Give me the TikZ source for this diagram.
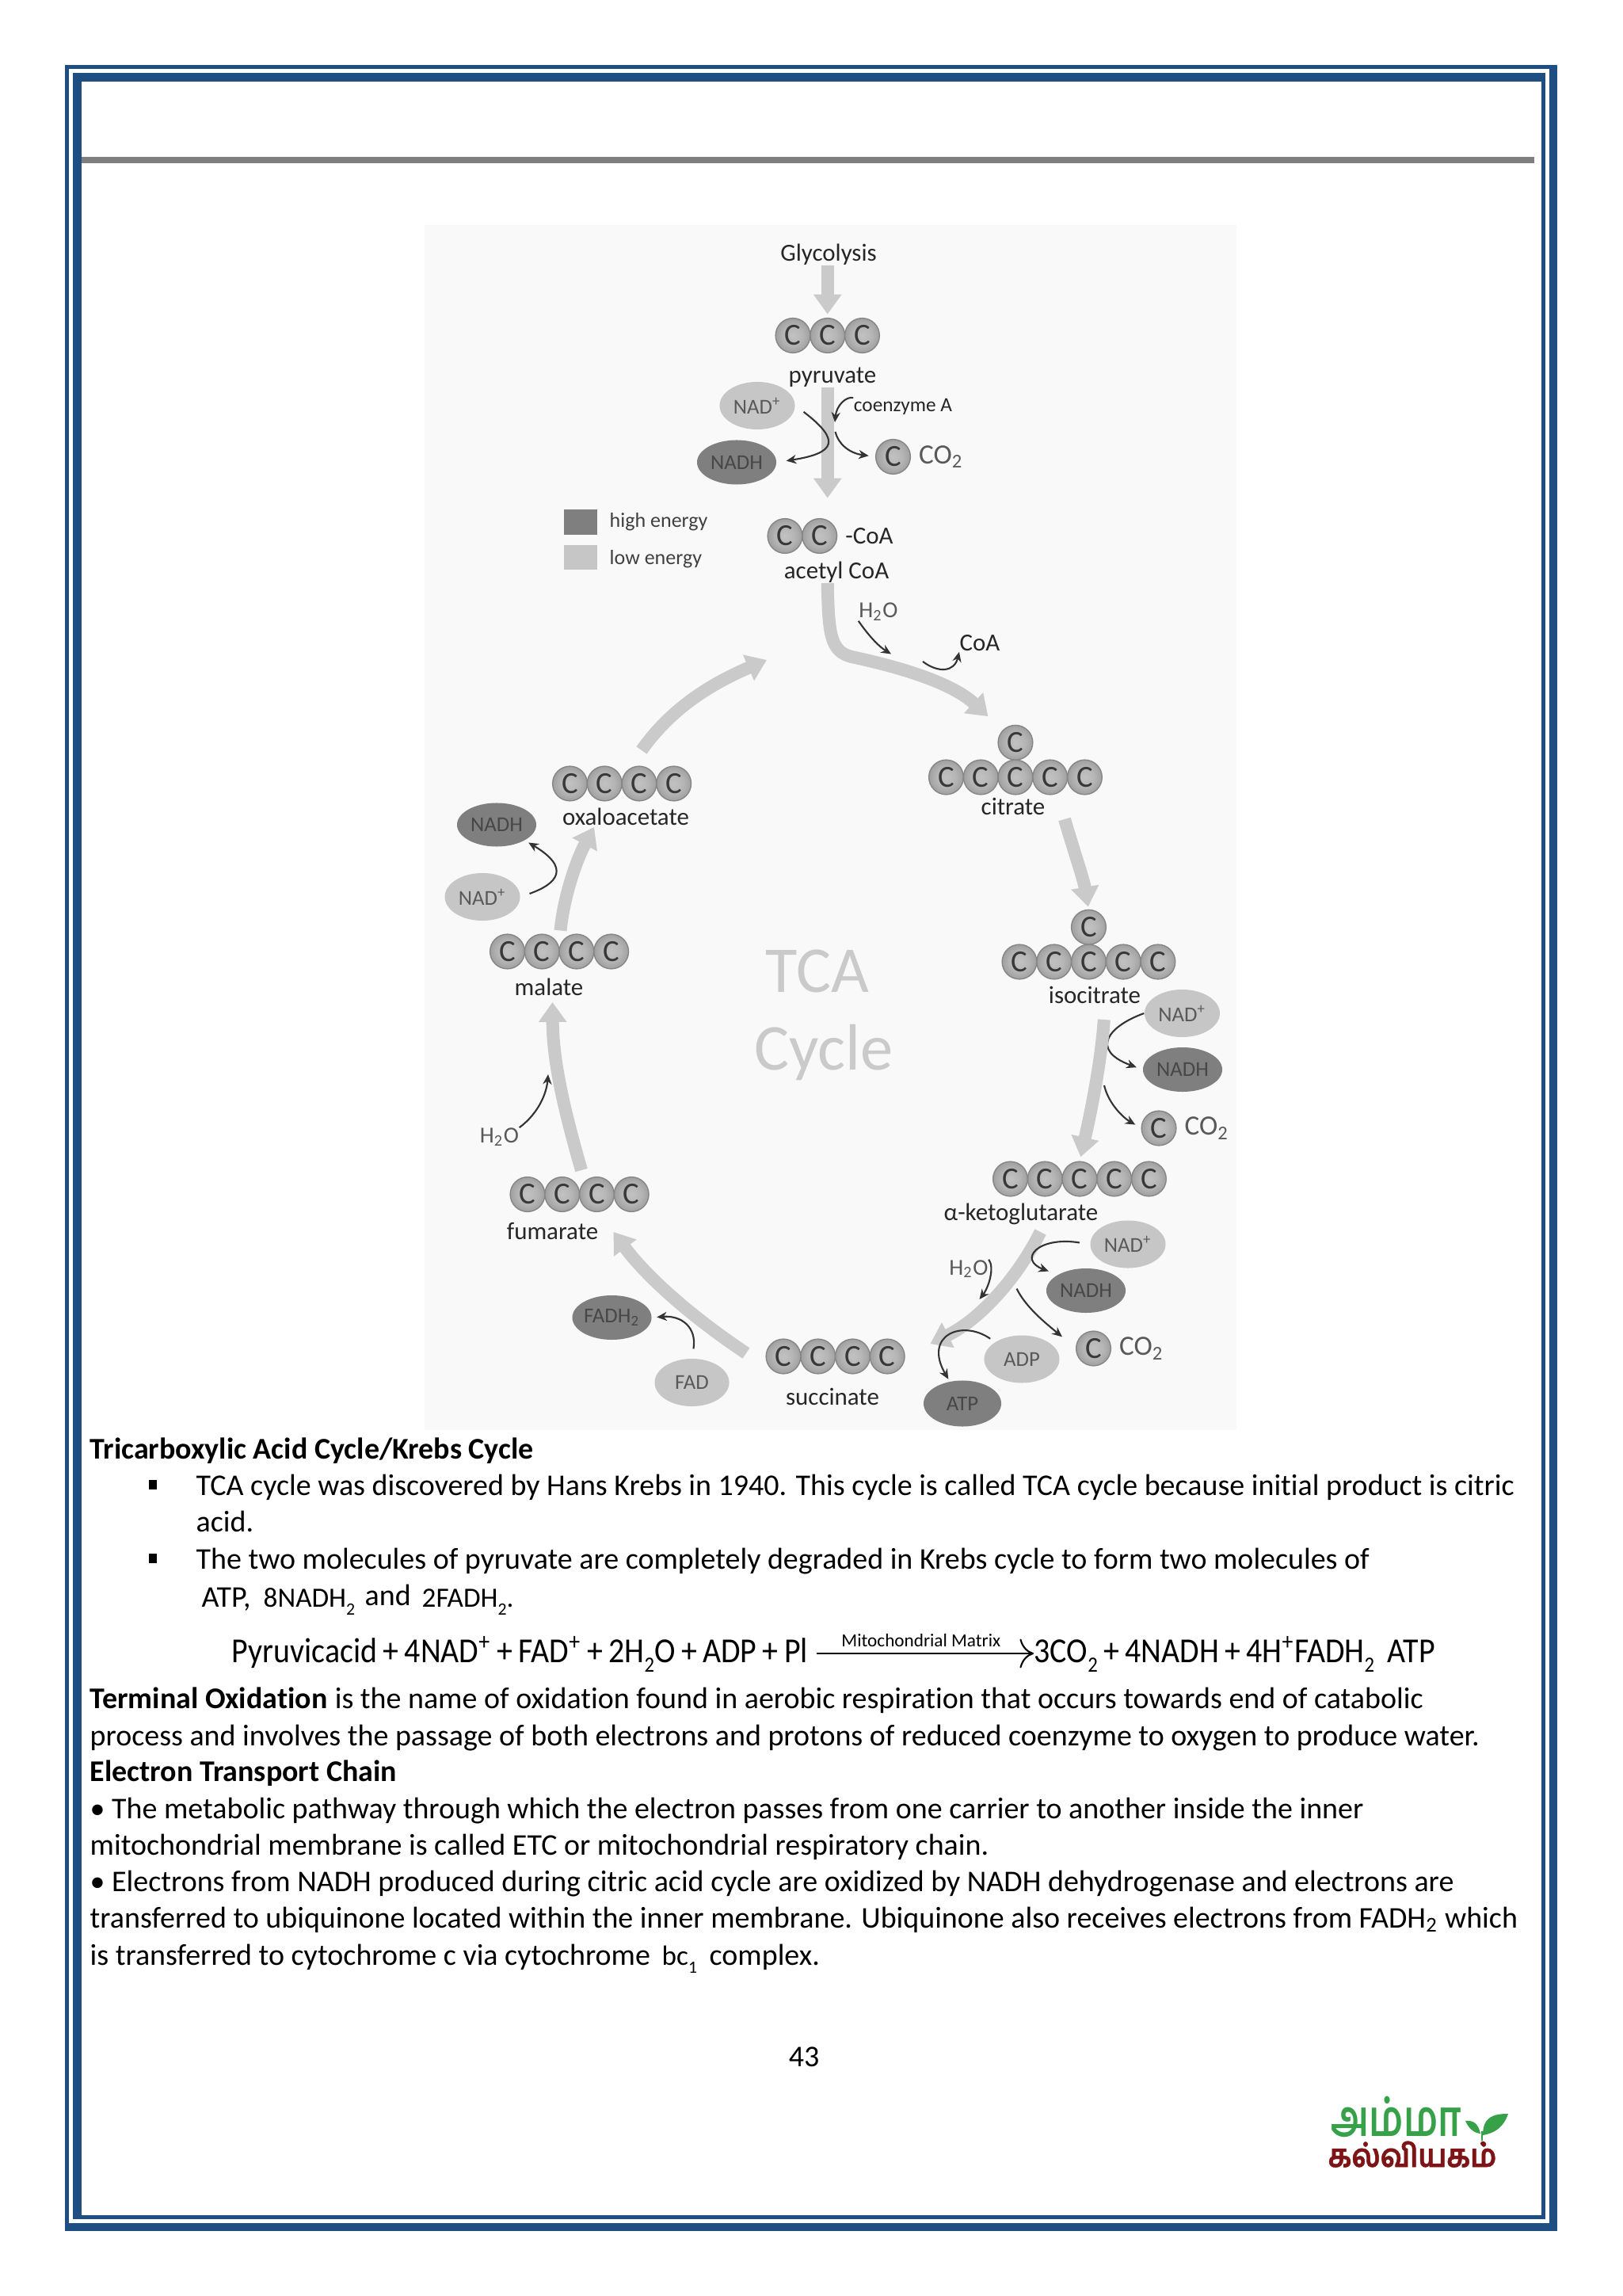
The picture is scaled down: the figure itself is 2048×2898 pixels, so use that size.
\documentclass[tikz,border=0pt]{standalone}
\usepackage{fontspec}
\setmainfont{Carlito}[Ligatures=NoCommon]
\newfontfamily\eqnfont[FakeStretch=0.9,Ligatures=NoCommon]{Carlito}
\newfontfamily\tamilfont[Script=Tamil,FakeStretch=0.75]{Hind Madurai}
\newfontfamily\tamilwide[Script=Tamil,FakeStretch=0.9,FakeBold=1.2]{Hind Madurai}
\usetikzlibrary{arrows.meta}
\usetikzlibrary{shapes.geometric}

\definecolor{framecol}{HTML}{1F4E82}
\definecolor{lowcol}{HTML}{C6C6C6}
\definecolor{highcol}{HTML}{7F7F7F}
\definecolor{pathcol}{HTML}{CACACA}
\definecolor{panelcol}{HTML}{F9F9F9}
\definecolor{logogreen}{HTML}{37A14A}
\definecolor{logored}{HTML}{7E1416}

\newcommand{\lowsub}[1]{\raisebox{-0.6ex}{\scalebox{0.62}{#1}}}
\pgfdeclareradialshading{atomshade}{\pgfpoint{0bp}{0bp}}{color(0bp)=(gray!48); color(14bp)=(gray!58); color(30bp)=(gray!82); color(44bp)=(gray!100); color(50bp)=(gray!100!black)}

\begin{document}
\begin{tikzpicture}[
        x=0.01cm, y=-0.01cm,
        % Carbon atoms, touching when placed in a row
        atom/.style={circle, draw=gray!95, line width=0.4pt, shading=atomshade,
        minimum size=0.437cm, inner sep=0pt, outer sep=0pt, text=black!78, font=\fontsize{11}{11}\selectfont},
        lowoval/.style={ellipse, fill=lowcol, minimum width=0.95cm, minimum height=0.6cm, inner sep=0pt, text=black!65,
        font=\fontsize{7.6}{8}\selectfont},
        highoval/.style={ellipse, fill=highcol, minimum width=1cm, minimum height=0.56cm, inner sep=0pt, text=black!72,
        font=\fontsize{7.6}{8}\selectfont},
        % Labels of the cycle
        label/.style={inner sep=0pt, text=black!85, font=\fontsize{8.8}{9}\selectfont},
        minor/.style={inner sep=0pt, text=black!65, font=\fontsize{8.2}{9}\selectfont},
        % Wide grey path and thin side reaction
        bigarrow/.style={draw=pathcol, line width=0.16cm, -{Triangle[width=0.34cm, length=0.25cm]}},
        thinarrow/.style={draw=black!80, line width=0.6pt, -{Stealth[length=3.6pt, width=3.2pt]}},
        % Page text, one node for each printed line
        body/.style={anchor=base west, inner sep=0pt, font=\fontsize{10.8}{13}\selectfont},
        head/.style={anchor=base west, inner sep=0pt, font=\fontsize{10.8}{13}\selectfont\bfseries},
        small/.style={anchor=base west, inner sep=0pt, font=\fontsize{10}{13}\selectfont},
        eqn/.style={anchor=base west, inner sep=0pt, font=\eqnfont\fontsize{12.6}{13}\selectfont}
    ]
    \useasboundingbox (0,0) rectangle (2048,2898);

    % --- Page frame ---
    \fill[white] (0,0) rectangle (2048,2898);
    \fill[framecol] (82,82) rectangle (1966,2816);
    \fill[white] (87,87) rectangle (1956,2806);
    \fill[framecol] (92,92) rectangle (1951,2800.5);
    \fill[white] (103,103) rectangle (1946,2796);
    \fill[highcol] (103,198) rectangle (1937,206);
    \fill[panelcol] (536,284) rectangle (1561,1805);

    % --- Top: pyruvate to acetyl CoA ---
    \node[label] (glycolysis) at (1046,321) {Glycolysis};
    \node[atom] (pyr_a) at (1001,423.5) {C};
    \node[atom, anchor=west] (pyr_b) at (pyr_a.east) {C};
    \node[atom, anchor=west] (pyr_c) at (pyr_b.east) {C};
    \node[label] (pyruvate) at (1051,476) {pyruvate};
    \node[lowoval] (nad_top) at (956,512) {NAD\textsuperscript{+}};
    \node[highoval] (nadh_top) at (930,583.5) {NADH};
    \node[inner sep=0pt, text=black!85, font=\fontsize{7.2}{8}\selectfont] (coenzyme) at (1140,513) {coenzyme A};
    \node[atom] (co2_top) at (1127.5,576.5) {C};
    \node[minor, anchor=west, xshift=0.1cm, font=\fontsize{10}{10}\selectfont] (co2_top_text) at (co2_top.east) {CO\textsubscript{2}};
    \node[atom] (ace_a) at (991,676.5) {C};
    \node[atom, anchor=west] (ace_b) at (ace_a.east) {C};
    \node[label, anchor=west, xshift=0.1cm] (ace_coa) at (ace_b.east) {-CoA};
    \node[label] (acetyl) at (1056,722) {acetyl CoA};

    \draw[bigarrow, shorten >=0.05cm] (glycolysis.south -| pyr_b) -- (pyr_b.north);
    \draw[bigarrow, shorten >=0.26cm] (pyruvate.south -| pyr_b) -- (ace_b.north -| pyr_b);

    \coordinate (coa_in) at (1054,533);
    \coordinate (coa_out) at (1054.5,545);
    \draw[thinarrow, shorten <=0.13cm, shorten >=0.12cm] (nad_top.east) .. controls (1062,556) and (1055,572) .. (nadh_top.east);
    \draw[thinarrow] (coenzyme.north west) .. controls (1068,500) and (1056,512) .. (coa_in);
    \draw[thinarrow, shorten >=0.09cm] (coa_out) .. controls (1058,560) and (1072,572) .. (co2_top.west);

    % --- Legend ---
    \node[fill=highcol, minimum width=0.42cm, minimum height=0.31cm, inner sep=0pt] (high_box) at (733,659) {};
    \node[fill=lowcol, minimum width=0.42cm, minimum height=0.31cm, inner sep=0pt] (low_box) at (733,703.5) {};
    \node[inner sep=0pt, anchor=west, text=black!75, font=\fontsize{7.4}{8}\selectfont] (high_text) at (769,659) {high energy};
    \node[inner sep=0pt, anchor=west, text=black!75, font=\fontsize{7.4}{8}\selectfont] (low_text) at (769,706) {low energy};

    % --- Citrate ---
    \node[minor] (water_top) at (1109,772) {H\textsubscript{2}O};
    \node[label] (coa_free) at (1237,812) {CoA};
    \node[atom] (cit_a) at (1194.5,981) {C};
    \node[atom, anchor=west] (cit_b) at (cit_a.east) {C};
    \node[atom, anchor=west] (cit_c) at (cit_b.east) {C};
    \node[atom, anchor=west] (cit_d) at (cit_c.east) {C};
    \node[atom, anchor=west] (cit_e) at (cit_d.east) {C};
    \node[atom, anchor=south] (cit_top) at (cit_c.north) {C};
    \node[label] (citrate) at (1279,1018) {citrate};

    \coordinate (water_top_in) at (1125,825.5);
    \coordinate (coa_free_out) at (1165,835);
    \draw[bigarrow, shorten >=0.26cm] (acetyl.south -| pyr_b) .. controls (1046,800) and (1048,822) .. (1075,829)
        .. controls (1150,845) and (1205,865) .. (cit_top.north west);
    \draw[thinarrow] (water_top.south west) .. controls (1095,800) and (1108,815) .. (water_top_in);
    \draw[thinarrow] (coa_free_out) .. controls (1185,850) and (1205,848) .. (coa_free.south west);

    % --- Isocitrate ---
    \node[atom] (iso_a) at (1287,1214) {C};
    \node[atom, anchor=west] (iso_b) at (iso_a.east) {C};
    \node[atom, anchor=west] (iso_c) at (iso_b.east) {C};
    \node[atom, anchor=west] (iso_d) at (iso_c.east) {C};
    \node[atom, anchor=west] (iso_e) at (iso_d.east) {C};
    \node[atom, anchor=south] (iso_top) at (iso_c.north) {C};
    \node[label] (isocitrate) at (1382,1256) {isocitrate};
    \node[lowoval] (nad_iso) at (1492.5,1279) {NAD\textsuperscript{+}};
    \node[highoval] (nadh_iso) at (1493,1350) {NADH};
    \node[atom] (co2_iso) at (1463,1424) {C};
    \node[minor, anchor=west, xshift=0.1cm, font=\fontsize{10}{10}\selectfont] (co2_iso_text) at (co2_iso.east) {CO\textsubscript{2}};

    \coordinate (cit_out) at (1344,1034);
    \coordinate (iso_out) at (1394,1285);
    \coordinate (iso_co2_out) at (1394,1370);
    \draw[bigarrow, shorten >=0.04cm] (cit_out) .. controls (1356,1075) and (1368,1110) .. (iso_top.north);
    \draw[thinarrow, shorten >=0.08cm] (nad_iso.west) .. controls (1400,1295) and (1375,1325) .. (nadh_iso.west);
    \draw[thinarrow, shorten >=0.09cm] (iso_co2_out) .. controls (1400,1395) and (1420,1412) .. (co2_iso.west);

    % --- Alpha-ketoglutarate ---
    \node[atom] (ket_a) at (1275.5,1488) {C};
    \node[atom, anchor=west] (ket_b) at (ket_a.east) {C};
    \node[atom, anchor=west] (ket_c) at (ket_b.east) {C};
    \node[atom, anchor=west] (ket_d) at (ket_c.east) {C};
    \node[atom, anchor=west] (ket_e) at (ket_d.east) {C};
    \node[label] (ketoglu) at (1289,1532) {α-ketoglutarate};
    \node[lowoval] (nad_ket) at (1424,1570.5) {NAD\textsuperscript{+}};
    \node[highoval] (nadh_ket) at (1371,1629) {NADH};
    \node[atom] (co2_ket) at (1380.5,1702) {C};
    \node[minor, anchor=west, xshift=0.1cm, font=\fontsize{10}{10}\selectfont] (co2_ket_text) at (co2_ket.east) {CO\textsubscript{2}};
    \node[minor] (water_ket) at (1223,1601.5) {H\textsubscript{2}O};

    \draw[bigarrow, shorten <=0.02cm, shorten >=0.06cm] (iso_out) .. controls (1390,1340) and (1378,1400) .. (ket_c.north);

    % --- Succinate ---
    \node[atom] (suc_a) at (989,1712) {C};
    \node[atom, anchor=west] (suc_b) at (suc_a.east) {C};
    \node[atom, anchor=west] (suc_c) at (suc_b.east) {C};
    \node[atom, anchor=west] (suc_d) at (suc_c.east) {C};
    \node[label] (succinate) at (1051,1763) {succinate};
    \node[lowoval] (adp) at (1290,1715.5) {ADP};
    \node[highoval, minimum width=0.98cm, minimum height=0.58cm] (atp) at (1215,1771.5) {ATP};
    \node[lowoval, minimum width=0.94cm, minimum height=0.6cm] (fad) at (873.5,1745) {FAD};
    \node[highoval, minimum width=1cm, minimum height=0.56cm] (fadh) at (772.5,1663) {FADH\textsubscript{2}};

    \coordinate (ket_out) at (1313.5,1555);
    \coordinate (water_ket_in) at (1236.5,1640);
    \coordinate (ket_co2_out) at (1283.5,1626.5);
    \draw[bigarrow, shorten >=0.36cm] (ket_out) .. controls (1285,1612) and (1238,1665) .. (suc_d.east);
    \draw[thinarrow] (water_ket.north east) .. controls (1256,1600) and (1248,1625) .. (water_ket_in);
    \draw[thinarrow, shorten <=0.13cm, shorten >=0.12cm] (nad_ket.west) .. controls (1310,1560) and (1285,1590) .. (nadh_ket.north west);
    \draw[thinarrow, shorten >=0.23cm] (ket_co2_out) .. controls (1295,1650) and (1320,1670) .. (co2_ket.west);
    \draw[thinarrow, shorten <=0.07cm, shorten >=0.03cm] (adp.north west) .. controls (1215,1665) and (1165,1685) .. (atp.120);

    % --- Fumarate, malate, oxaloacetate ---
    \node[atom] (fum_a) at (666,1507.5) {C};
    \node[atom, anchor=west] (fum_b) at (fum_a.east) {C};
    \node[atom, anchor=west] (fum_c) at (fum_b.east) {C};
    \node[atom, anchor=west] (fum_d) at (fum_c.east) {C};
    \node[label] (fumarate) at (697.5,1554) {fumarate};
    \node[minor] (water_fum) at (630.5,1435) {H\textsubscript{2}O};

    \node[atom] (mal_a) at (640.5,1201) {C};
    \node[atom, anchor=west] (mal_b) at (mal_a.east) {C};
    \node[atom, anchor=west] (mal_c) at (mal_b.east) {C};
    \node[atom, anchor=west] (mal_d) at (mal_c.east) {C};
    \node[label] (malate) at (693,1246) {malate};

    \node[atom] (oxa_a) at (719.5,989) {C};
    \node[atom, anchor=west] (oxa_b) at (oxa_a.east) {C};
    \node[atom, anchor=west] (oxa_c) at (oxa_b.east) {C};
    \node[atom, anchor=west] (oxa_d) at (oxa_c.east) {C};
    \node[label] (oxaloacetate) at (790,1031) {oxaloacetate};
    \node[highoval, minimum width=1cm, minimum height=0.55cm] (nadh_oxa) at (627,1041) {NADH};
    \node[lowoval] (nad_oxa) at (609,1132) {NAD\textsuperscript{+}};

    \coordinate (suc_in) at (942,1708);
    \coordinate (fum_in) at (774.5,1555);
    \coordinate (fum_out) at (734,1477);
    \coordinate (mal_in) at (697.5,1265);
    \coordinate (mal_out) at (707.5,1174.5);
    \coordinate (oxa_in) at (750,1044);
    \coordinate (oxa_out) at (810,947);
    \coordinate (oxa_tip) at (968,833);
    \coordinate (water_fum_in) at (692,1356);
    \draw[bigarrow] (suc_in) .. controls (870,1660) and (815,1610) .. (fum_in);
    \draw[bigarrow] (fum_out) .. controls (712,1400) and (698,1340) .. (mal_in);
    \draw[bigarrow] (mal_out) .. controls (712,1130) and (728,1085) .. (oxa_in);
    \draw[bigarrow] (oxa_out) .. controls (850,890) and (905,860) .. (oxa_tip);
    \draw[thinarrow] (water_fum.north east) .. controls (680,1405) and (690,1380) .. (water_fum_in);
    \draw[thinarrow, shorten <=0.12cm, shorten >=0.05cm] (nad_oxa.east) .. controls (705,1115) and (720,1095) .. (nadh_oxa.south east);

    % --- FAD reaction ---
    \draw[thinarrow, shorten <=0.12cm, shorten >=0.06cm] (fad.north) .. controls (880,1675) and (860,1660) .. (fadh.east);

    % --- Cycle title ---
    \node[inner sep=0pt, text=pathcol, font=\fontsize{23.5}{24}\selectfont] (tca_title) at (1032,1226) {TCA};
    \node[inner sep=0pt, text=pathcol, font=\fontsize{23.5}{24}\selectfont] (cycle_title) at (1040,1328) {Cycle};

    % --- Page text ---
    \node[head] (tca_head) at (113,1841) {Tricarboxylic Acid Cycle/Krebs Cycle};
    \node[fill=black, minimum width=0.1cm, minimum height=0.12cm, inner sep=0pt] (bullet_a) at (193,1874) {};
    \node[body] (tca_one) at (247,1887) {TCA cycle was discovered by Hans Krebs in 1940. This cycle is called TCA cycle because initial product is citric};
    \node[body] (tca_two) at (247,1933) {acid.};
    \node[fill=black, minimum width=0.1cm, minimum height=0.12cm, inner sep=0pt] (bullet_b) at (193,1967) {};
    \node[body] (tca_three) at (247,1980) {The two molecules of pyruvate are completely degraded in Krebs cycle to form two molecules of};
    \node[body] (atp_word) at (254,2028) {ATP,};
    \node[small] (nadh_word) at (332,2028) {8NADH\lowsub{2}};
    \node[body] (and_word) at (460,2026) {and};
    \node[small] (fadh_word) at (532,2028) {2FADH\lowsub{2}.};

    % Equation, the arrow runs between the two sides
    \node[eqn] (eq_left) at (292,2098) {Pyruvicacid\,+\,4NAD\textsuperscript{+}\,+\,FAD\textsuperscript{+}\,+\,2H\lowsub{2}O\,+\,ADP\,+\,Pl};
    \node[eqn] (eq_right) at (1305,2098) {3CO\lowsub{2}\,+\,4NADH\,+\,4H\textsuperscript{+}FADH\lowsub{2}\, ATP};
    \draw[line width=0.6pt, shorten <=0.1cm, -{To[length=5pt]}] (eq_left.east |- 0,2087) -- (eq_right.west |- 0,2087) node[midway, above=0.07cm, inner sep=0pt, font=\fontsize{6.6}{7}\selectfont] (eq_label) {Mitochondrial Matrix};

    \node[head] (term_a) at (113,2156) {Terminal Oxidation};
    \node[body, xshift=0.08cm] (term_b) at (term_a.base east) {is the name of oxidation found in aerobic respiration that occurs towards end of catabolic};
    \node[body] (term_c) at (113,2203) {process and involves the passage of both electrons and protons of reduced coenzyme to oxygen to produce water.};
    \node[head] (etc_head) at (113,2248) {Electron Transport Chain};
    \node[body] (etc_a) at (113,2295) {• The metabolic pathway through which the electron passes from one carrier to another inside the inner};
    \node[body] (etc_b) at (113,2341) {mitochondrial membrane is called ETC or mitochondrial respiratory chain.};
    \node[body] (etc_c) at (113,2387) {• Electrons from NADH produced during citric acid cycle are oxidized by NADH dehydrogenase and electrons are};
    \node[body] (etc_d) at (113,2433) {transferred to ubiquinone located within the inner membrane. Ubiquinone also receives electrons from FADH\textsubscript{2} which};
    \node[body] (etc_e) at (113,2480) {is transferred to cytochrome c via cytochrome};
    \node[small] (etc_f) at (835,2480) {bc\lowsub{1}};
    \node[body] (etc_g) at (895,2480) {complex.};
    \node[body, anchor=base] (page_no) at (1015,2608) {43};

    % --- Logo ---
    \node[inner sep=0pt, anchor=base, text=logogreen, font=\tamilfont\bfseries\fontsize{18}{19}\selectfont] (logo_top) at (1763,2696) {அம்மா};
    \node[inner sep=0pt, anchor=base, text=logored, font=\tamilwide\bfseries\fontsize{11.5}{12}\selectfont] (logo_bottom) at (1783,2735) {கல்வியகம்};
    \fill[logogreen] (1872,2695) .. controls (1872,2672) and (1885,2668) .. (1904,2668) .. controls (1898,2685) and (1888,2692) .. (1872,2695);
    \fill[logogreen] (1869,2693) .. controls (1866,2680) and (1860,2676) .. (1850,2677) .. controls (1854,2686) and (1860,2692) .. (1869,2693);
    \draw[logogreen, line width=0.025cm] (1871,2702) -- (1871,2690);
    \fill[logored] (1872,2705.5) circle (3);
\end{tikzpicture}
\end{document}
